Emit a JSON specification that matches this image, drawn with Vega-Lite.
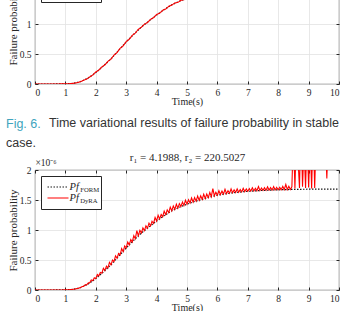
{
 "$schema": "https://vega.github.io/schema/vega-lite/v6.json",
 "padding": {"left": 5, "top": -42, "right": 0, "bottom": 0},
 "background": "white",
 "bounds": "flush",
 "spacing": 86,
 "resolve": {"scale": {"stroke": "independent", "strokeDash": "independent", "opacity": "independent"}, "legend": {"stroke": "independent", "strokeDash": "independent", "opacity": "independent"}},
 "config": {
  "view": {"stroke": "#262626", "strokeWidth": 0.8},
  "axis": {"labelFont": "Liberation Serif", "titleFont": "Liberation Serif", "labelFontSize": 9.5, "titleFontSize": 11, "titleFontWeight": "normal", "labelColor": "#262626", "titleColor": "#262626", "tickColor": "#262626", "tickSize": -3, "domain": false, "gridColor": "#e2e2e2", "gridWidth": 0.8},
  "title": {"font": "Liberation Sans", "fontSize": 12.5, "fontWeight": "normal", "color": "#333333"}
 },
 "datasets": {
  "form": [
   {"t":0,"p":0},{"t":0.5,"p":0},{"t":1,"p":0.002},{"t":1.25,"p":0.01},{"t":1.5,"p":0.04},{"t":1.75,"p":0.1},{"t":2,"p":0.19},{"t":2.25,"p":0.3},{"t":2.5,"p":0.42},{"t":2.75,"p":0.56},{"t":3,"p":0.7},{"t":3.25,"p":0.83},{"t":3.5,"p":0.95},{"t":3.75,"p":1.05},{"t":4,"p":1.15},{"t":4.25,"p":1.24},{"t":4.5,"p":1.32},{"t":4.75,"p":1.38},{"t":5,"p":1.43},{"t":5.25,"p":1.475},{"t":5.5,"p":1.51},{"t":5.75,"p":1.55},{"t":6,"p":1.58},{"t":6.25,"p":1.6},{"t":6.5,"p":1.62},{"t":7,"p":1.645},{"t":7.5,"p":1.66},{"t":8,"p":1.67},{"t":8.5,"p":1.677},{"t":9,"p":1.68},{"t":9.5,"p":1.68},{"t":10,"p":1.68}
  ],
  "dyraT": [
   {"t":0,"p":0},{"t":0.5,"p":0},{"t":1.0,"p":0.002},{"t":1.1,"p":0.004},{"t":1.2,"p":0.007},{"t":1.3,"p":0.014},{"t":1.4,"p":0.024},{"t":1.5,"p":0.04},{"t":1.6,"p":0.062},{"t":1.7,"p":0.082},{"t":1.8,"p":0.118},{"t":1.9,"p":0.15},{"t":2.0,"p":0.2},{"t":2.1,"p":0.232},{"t":2.2,"p":0.285},{"t":2.3,"p":0.32},{"t":2.4,"p":0.378},{"t":2.5,"p":0.415},{"t":2.6,"p":0.482},{"t":2.7,"p":0.525},{"t":2.8,"p":0.595},{"t":2.9,"p":0.635},{"t":3.0,"p":0.708},{"t":3.1,"p":0.745},{"t":3.2,"p":0.81},{"t":3.3,"p":0.85},{"t":3.4,"p":0.912},{"t":3.5,"p":0.945},{"t":3.6,"p":0.998},{"t":3.7,"p":1.025},{"t":3.8,"p":1.078},{"t":3.9,"p":1.105},{"t":4.0,"p":1.158},{"t":4.1,"p":1.18},{"t":4.2,"p":1.228},{"t":4.3,"p":1.25},{"t":4.4,"p":1.295},{"t":4.5,"p":1.315},{"t":4.6,"p":1.35},{"t":4.7,"p":1.36},{"t":4.8,"p":1.395},{"t":4.9,"p":1.405},{"t":5.0,"p":1.435},{"t":5.25,"p":1.475},{"t":5.5,"p":1.51},{"t":6,"p":1.58},{"t":6.5,"p":1.62},{"t":7,"p":1.645},{"t":8,"p":1.67},{"t":9,"p":1.68},{"t":10,"p":1.68}
  ],
  "dyraB": [
   {"t":0,"p":0},{"t":0.1,"p":0},{"t":0.2,"p":0},{"t":0.3,"p":0},{"t":0.4,"p":0},{"t":0.5,"p":0},{"t":0.6,"p":0},{"t":0.7,"p":0},{"t":0.8,"p":0.001},{"t":0.9,"p":0.001},{"t":1.0,"p":0.002},{"t":1.1,"p":0.004},{"t":1.2,"p":0.008},{"t":1.3,"p":0.015},{"t":1.4,"p":0.025},
   {"t":1.5,"p":0.04},{"t":1.55,"p":0.058},{"t":1.6,"p":0.06},{"t":1.65,"p":0.088},{"t":1.7,"p":0.085},{"t":1.75,"p":0.118},{"t":1.8,"p":0.12},{"t":1.85,"p":0.168},{"t":1.9,"p":0.155},{"t":1.95,"p":0.203},{"t":2.0,"p":0.19},{"t":2.05,"p":0.258},{"t":2.1,"p":0.235},{"t":2.15,"p":0.293},{"t":2.2,"p":0.28},{"t":2.25,"p":0.363},{"t":2.3,"p":0.325},{"t":2.35,"p":0.398},{"t":2.4,"p":0.37},{"t":2.45,"p":0.46},{"t":2.5,"p":0.42},{"t":2.55,"p":0.5},{"t":2.6,"p":0.475},{"t":2.65,"p":0.57},{"t":2.7,"p":0.53},{"t":2.75,"p":0.61},{"t":2.8,"p":0.585},{"t":2.85,"p":0.69},{"t":2.9,"p":0.64},{"t":2.95,"p":0.735},{"t":3.0,"p":0.7},{"t":3.05,"p":0.8},{"t":3.1,"p":0.75},{"t":3.15,"p":0.84},{"t":3.2,"p":0.8},{"t":3.25,"p":0.905},{"t":3.3,"p":0.855},{"t":3.35,"p":0.99},{"t":3.4,"p":0.905},{"t":3.45,"p":0.995},{"t":3.5,"p":0.95},{"t":3.55,"p":1.035},{"t":3.6,"p":0.99},{"t":3.65,"p":1.07},{"t":3.7,"p":1.03},{"t":3.75,"p":1.115},{"t":3.8,"p":1.07},{"t":3.85,"p":1.145},{"t":3.9,"p":1.11},{"t":3.95,"p":1.21},{"t":4.0,"p":1.15},{"t":4.05,"p":1.245},{"t":4.1,"p":1.185},{"t":4.15,"p":1.26},{"t":4.2,"p":1.22},{"t":4.25,"p":1.315},{"t":4.3,"p":1.255},{"t":4.35,"p":1.335},{"t":4.4,"p":1.29},{"t":4.45,"p":1.38},{"t":4.5,"p":1.32},{"t":4.55,"p":1.4},{"t":4.6,"p":1.345},{"t":4.65,"p":1.43},{"t":4.7,"p":1.365},{"t":4.75,"p":1.44},{"t":4.8,"p":1.39},{"t":4.85,"p":1.465},{"t":4.9,"p":1.41},{"t":4.95,"p":1.495},{"t":5.0,"p":1.43},{"t":5.05,"p":1.505},{"t":5.1,"p":1.45},{"t":5.15,"p":1.535},{"t":5.2,"p":1.465},{"t":5.25,"p":1.54},{"t":5.3,"p":1.48},{"t":5.35,"p":1.565},{"t":5.4,"p":1.495},{"t":5.45,"p":1.57},{"t":5.5,"p":1.51},{"t":5.55,"p":1.595},{"t":5.6,"p":1.525},{"t":5.65,"p":1.6},{"t":5.7,"p":1.54},{"t":5.75,"p":1.625},{"t":5.8,"p":1.555},{"t":5.85,"p":1.69},{"t":5.9,"p":1.57},{"t":5.95,"p":1.63},{"t":6.0,"p":1.58},{"t":6.05,"p":1.655},{"t":6.1,"p":1.59},{"t":6.15,"p":1.65},{"t":6.2,"p":1.598},{"t":6.25,"p":1.68},{"t":6.3,"p":1.606},{"t":6.35,"p":1.655},{"t":6.4,"p":1.613},{"t":6.45,"p":1.685},{"t":6.5,"p":1.62},{"t":6.55,"p":1.67},{"t":6.6,"p":1.625},{"t":6.65,"p":1.685},{"t":6.7,"p":1.63},{"t":6.75,"p":1.675},{"t":6.8,"p":1.635},{"t":6.85,"p":1.695},{"t":6.9,"p":1.64},{"t":6.95,"p":1.685},{"t":7.0,"p":1.645},{"t":7.05,"p":1.69},{"t":7.1,"p":1.648},{"t":7.15,"p":1.705},{"t":7.2,"p":1.651},{"t":7.25,"p":1.695},{"t":7.3,"p":1.654},{"t":7.35,"p":1.725},{"t":7.4,"p":1.657},{"t":7.45,"p":1.7},{"t":7.5,"p":1.66},{"t":7.55,"p":1.705},{"t":7.6,"p":1.662},{"t":7.65,"p":1.72},{"t":7.7,"p":1.664},{"t":7.75,"p":1.708},{"t":7.8,"p":1.666},{"t":7.85,"p":1.722},{"t":7.9,"p":1.668},{"t":7.95,"p":1.71},{"t":8.0,"p":1.67},{"t":8.05,"p":1.712},{"t":8.1,"p":1.671},{"t":8.15,"p":1.728},{"t":8.2,"p":1.673},{"t":8.25,"p":1.76},{"t":8.3,"p":1.674},{"t":8.35,"p":1.73},{"t":8.4,"p":1.676},{"t":8.45,"p":1.72},{"t":8.5,"p":2.6},{"t":8.55,"p":1.69},{"t":8.6,"p":2.7},{"t":8.65,"p":2.2},{"t":8.7,"p":1.7},{"t":8.75,"p":2.8},{"t":8.8,"p":1.72},{"t":8.85,"p":2.4},{"t":8.9,"p":1.7},{"t":8.95,"p":2.6},{"t":9.0,"p":1.71},{"t":9.05,"p":2.5},{"t":9.1,"p":1.69},{"t":9.15,"p":2.7},{"t":9.2,"p":1.7},{"t":9.25,"p":2.6},{"t":9.3,"p":2.9},{"t":9.35,"p":2.7},{"t":9.4,"p":3.0},{"t":9.45,"p":2.8},{"t":9.5,"p":3.1},{"t":9.55,"p":2.5},{"t":9.6,"p":1.86},{"t":9.65,"p":2.6},{"t":9.7,"p":3.0},{"t":9.75,"p":2.8},{"t":9.8,"p":3.2},{"t":9.85,"p":2.9},{"t":9.9,"p":3.1},{"t":9.95,"p":2.9},{"t":10.0,"p":3.0}
  ]
 },
 "vconcat": [
  {
   "width": 304, "height": 120,
   "title": {"text": "Fig. 6.", "subtitle": "case.", "orient": "bottom", "anchor": "start", "frame": "group", "dx": -29, "offset": 11, "color": "#40a4bd", "subtitleColor": "#333333", "subtitleFont": "Liberation Sans", "subtitleFontSize": 12.5, "subtitlePadding": 7},
   "resolve": {"axis": {"x": "independent", "y": "independent"}},
   "layer": [
    {"data": {"name": "form"}, "mark": {"type": "line", "clip": true, "strokeWidth": 1.2},
     "encoding": {
      "x": {"field": "t", "type": "quantitative", "scale": {"domain": [0, 10]}, "axis": {"orient": "bottom", "values": [0,1,2,3,4,5,6,7,8,9,10], "format": "d", "grid": true, "title": "Time(s)", "labelPadding": 6, "titlePadding": 0, "titleFontSize": 10}},
      "y": {"field": "p", "type": "quantitative", "scale": {"domain": [0, 2]}, "axis": {"orient": "left", "values": [0,0.5,1,1.5,2], "format": "~g", "grid": true, "title": "Failure probability", "labelPadding": 7, "titleX": -17, "titleBaseline": "bottom"}},
      "stroke": {"datum": "sFORM", "type": "nominal", "scale": {"domain": ["sFORM", "sDyRA"], "range": ["#1a1a1a", "#ff0000"]},
       "legend": {"orient": "none", "legendX": 6, "legendY": 5, "title": null, "strokeColor": "#262626", "fillColor": "white", "padding": 5.5, "symbolType": "stroke", "symbolSize": 441, "symbolStrokeWidth": 1.2, "labelFont": "Liberation Serif", "labelFontStyle": "italic", "labelFontSize": 10.5, "labelColor": "#262626", "labelExpr": "'Pf\u00a0\u00a0\u00a0\u00a0\u00a0\u00a0\u200b'", "clipHeight": 11, "rowPadding": 0, "labelOffset": 0}},
      "strokeDash": {"datum": "sFORM", "type": "nominal", "scale": {"domain": ["sFORM", "sDyRA"], "range": [[1.5, 1.5], [1, 0]]}},
      "opacity": {"datum": "FORM", "type": "ordinal", "scale": {"domain": ["FORM", "DyRA"], "range": [1, 1]},
       "legend": {"orient": "none", "legendX": 33, "legendY": 8, "title": null, "padding": 5.5, "symbolSize": 0, "symbolOpacity": 0, "symbolStrokeWidth": 0, "labelFont": "Liberation Serif", "labelFontSize": 6.7, "labelColor": "#262626", "clipHeight": 11, "rowPadding": 0, "labelOffset": 0}}
     }},
    {"data": {"name": "dyraT"}, "mark": {"type": "line", "clip": true, "strokeWidth": 1.1},
     "encoding": {
      "x": {"field": "t", "type": "quantitative", "axis": {"orient": "top", "values": [0,1,2,3,4,5,6,7,8,9,10], "labels": false, "grid": false, "title": null}},
      "y": {"field": "p", "type": "quantitative", "axis": {"orient": "right", "values": [0,0.5,1,1.5,2], "labels": false, "grid": false, "title": null}},
      "stroke": {"datum": "sDyRA", "type": "nominal"},
      "strokeDash": {"datum": "sDyRA", "type": "nominal"},
      "opacity": {"datum": "DyRA", "type": "ordinal"}
     }}
   ]
  },
  {
   "width": 304, "height": 120,
   "title": {"text": "Time variational results of failure probability in stable", "orient": "top", "anchor": "start", "frame": "group", "dx": 14, "offset": 22},
   "resolve": {"axis": {"x": "independent", "y": "independent"}},
   "layer": [
    {"data": {"name": "form"}, "mark": {"type": "line", "clip": true, "strokeWidth": 1.2},
     "encoding": {
      "x": {"field": "t", "type": "quantitative", "scale": {"domain": [0, 10]}, "axis": {"orient": "bottom", "values": [0,1,2,3,4,5,6,7,8,9,10], "format": "d", "grid": true, "title": "Time(s)", "labelPadding": 6, "titlePadding": 0, "titleFontSize": 10}},
      "y": {"field": "p", "type": "quantitative", "scale": {"domain": [0, 2]}, "axis": {"orient": "left", "values": [0,0.5,1,1.5,2], "format": "~g", "grid": true, "title": "Failure probability", "labelPadding": 7, "titleX": -17, "titleBaseline": "bottom"}},
      "stroke": {"datum": "sFORM", "type": "nominal", "scale": {"domain": ["sFORM", "sDyRA"], "range": ["#1a1a1a", "#ff0000"]},
       "legend": {"orient": "none", "legendX": 6, "legendY": 6, "title": null, "strokeColor": "#262626", "fillColor": "white", "padding": 5.5, "symbolType": "stroke", "symbolSize": 441, "symbolStrokeWidth": 1.2, "labelFont": "Liberation Serif", "labelFontStyle": "italic", "labelFontSize": 10.5, "labelColor": "#262626", "labelExpr": "'Pf\u00a0\u00a0\u00a0\u00a0\u00a0\u00a0\u200b'", "clipHeight": 11, "rowPadding": 0, "labelOffset": 0}},
      "strokeDash": {"datum": "sFORM", "type": "nominal", "scale": {"domain": ["sFORM", "sDyRA"], "range": [[1.5, 1.5], [1, 0]]}},
      "opacity": {"datum": "FORM", "type": "ordinal", "scale": {"domain": ["FORM", "DyRA"], "range": [1, 1]},
       "legend": {"orient": "none", "legendX": 33, "legendY": 9, "title": null, "padding": 5.5, "symbolSize": 0, "symbolOpacity": 0, "symbolStrokeWidth": 0, "labelFont": "Liberation Serif", "labelFontSize": 6.7, "labelColor": "#262626", "clipHeight": 11, "rowPadding": 0, "labelOffset": 0}}
     }},
    {"data": {"name": "dyraB"}, "mark": {"type": "line", "clip": true, "strokeWidth": 1.1},
     "encoding": {
      "x": {"field": "t", "type": "quantitative", "axis": {"orient": "top", "values": [0,1,2,3,4,5,6,7,8,9,10], "labels": false, "grid": false, "title": "r₁ = 4.1988, r₂ = 220.5027", "titlePadding": 7}},
      "y": {"field": "p", "type": "quantitative", "axis": {"orient": "right", "values": [0,0.5,1,1.5,2], "labels": false, "grid": false, "title": "×10⁻⁶", "titleAngle": 0, "titleAlign": "left", "titleBaseline": "bottom", "titleX": -304, "titleY": -3, "titleFontSize": 9.5}},
      "stroke": {"datum": "sDyRA", "type": "nominal"},
      "strokeDash": {"datum": "sDyRA", "type": "nominal"},
      "opacity": {"datum": "DyRA", "type": "ordinal"}
     }}
   ]
  }
 ]
}
